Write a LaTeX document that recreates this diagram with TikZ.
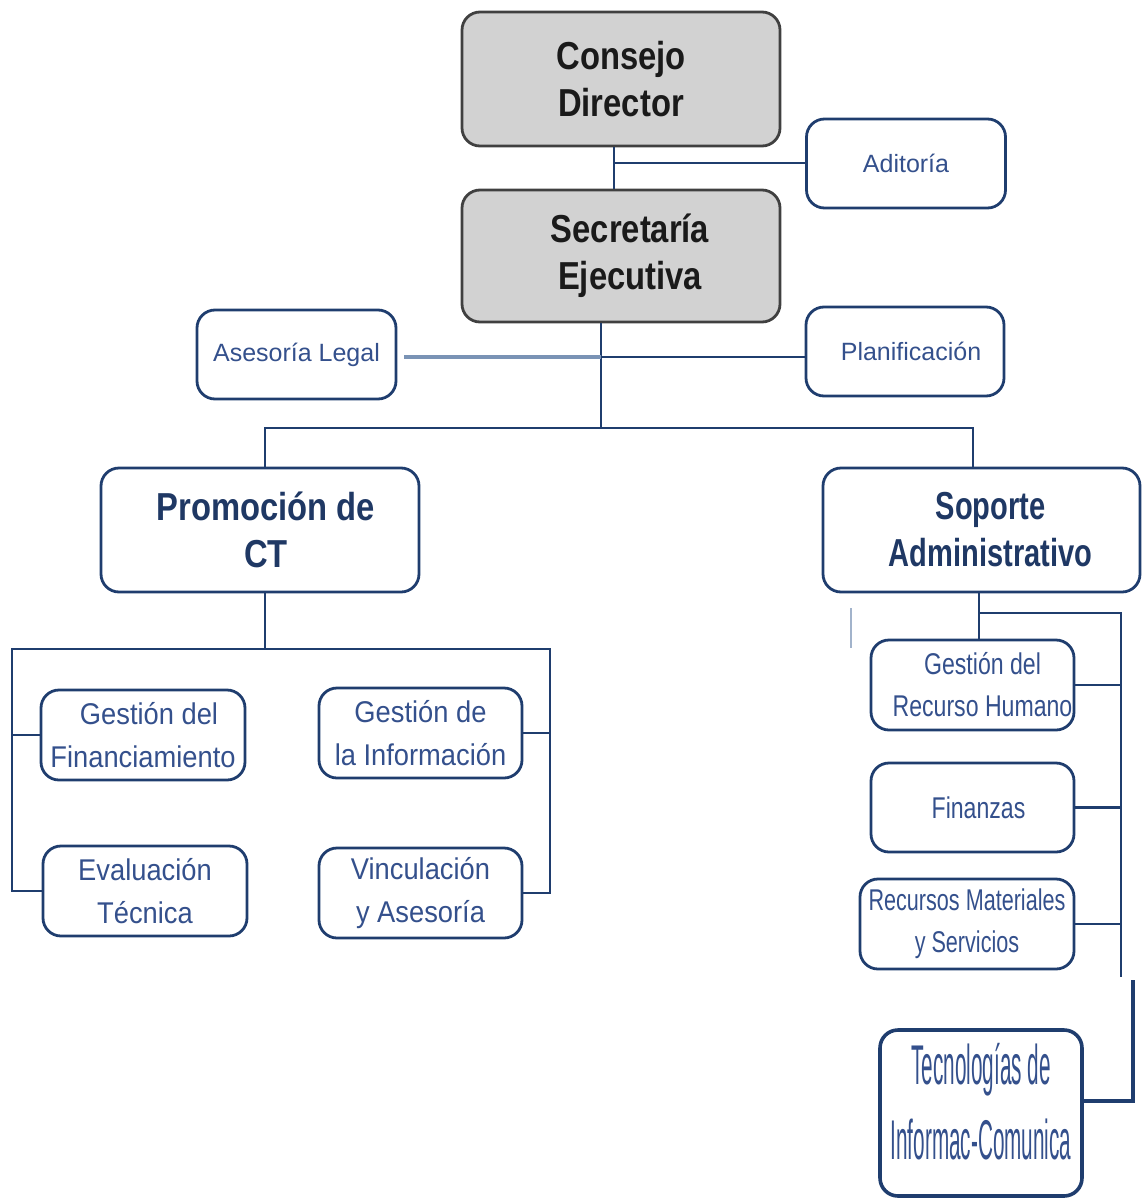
\documentclass[tikz,border=0pt]{standalone}
\usepackage{fontspec}
\setmainfont{Liberation Sans}
\newfontfamily\cabeza[FakeStretch=0.84]{Liberation Sans}
\newfontfamily\cabezaestrecha[FakeStretch=0.745]{Liberation Sans}
\newfontfamily\estrecha[FakeStretch=0.91]{Liberation Sans}
\newfontfamily\angosta[FakeStretch=0.77]{Liberation Sans}
\newfontfamily\muyangosta[FakeStretch=0.72]{Liberation Sans}
\newfontfamily\comprimida[FakeStretch=0.37]{Liberation Sans}

\definecolor{azul}{HTML}{1F3D6E}
\definecolor{textoazul}{HTML}{34508C}
\definecolor{titulo}{HTML}{1F3864}
\definecolor{grisborde}{HTML}{404040}
\definecolor{grisfondo}{HTML}{D2D2D2}
\definecolor{casinegro}{HTML}{1A1A1A}
\definecolor{azulclaro}{HTML}{7A93B5}

\begin{document}
\begin{tikzpicture}[
    x=0.5pt, y=-0.5pt,
    caja/.style={draw=azul, line width=1.4pt, rounded corners=9pt, align=center,
      inner sep=0pt, text=textoazul},
    direccion/.style={caja, draw=grisborde, fill=grisfondo, text=casinegro,
      minimum width=159pt, font=\cabeza\bfseries\fontsize{19.5}{23.5}\selectfont},
    area/.style={caja, text=titulo, minimum width=159pt, minimum height=62pt,
      font=\cabeza\bfseries\fontsize{19.5}{23.5}\selectfont},
    staff/.style={caja, minimum width=99.5pt, minimum height=44.5pt,
      font=\fontsize{12.5}{15}\selectfont},
    unidad/.style={caja, minimum width=102pt, minimum height=45pt,
      font=\estrecha\fontsize{15}{21.5}\selectfont},
    soporte/.style={caja, minimum width=101.5pt, minimum height=45pt,
      font=\angosta\fontsize{15}{21}\selectfont},
    linea/.style={draw=azul, line width=1.3pt},
    legal/.style={draw=azulclaro, line width=2pt},
    grueso/.style={draw=azul, line width=2.2pt},
    tenue/.style={draw=azulclaro!70, line width=0.6pt}
  ]
  \useasboundingbox (0,0) rectangle (1141,1199);

  % Dirección
  \node[direccion, minimum height=67pt] (consejo) at (621,79) {Consejo\\Director};
  \node[direccion, minimum height=66pt] (secretaria) at (621,256)
    {\hspace*{9pt}Secretaría\\\hspace*{9pt}Ejecutiva};
  \node[staff] (aditoria) at (906,163.5) {Aditoría};
  \node[staff] (asesoria) at (296.5,354.5) {Asesoría Legal};
  \node[staff, minimum width=99pt] (planif) at (905,351.5) {\hspace*{6pt}Planificación};

  % Áreas
  \node[area] (promocion) at (260,530) {\hspace*{6pt}Promoción de\\\hspace*{6pt}CT};
  \node[area, minimum width=158.5pt, font=\cabezaestrecha\bfseries\fontsize{19.5}{23.5}\selectfont]
    (soporte) at (981.5,530) {\hspace*{9pt}Soporte\\\hspace*{9pt}Administrativo};

  % Promoción de CT
  \node[unidad] (gfin) at (143,735) {\hspace*{6pt}Gestión del\\Financiamiento};
  \node[unidad, minimum width=101.5pt] (ginfo) at (420.5,733) {Gestión de\\la Información};
  \node[unidad] (evalua) at (145,891) {Evaluación\\Técnica};
  \node[unidad, minimum width=101.5pt] (vincul) at (420.5,893) {Vinculación\\y Asesoría};

  % Soporte Administrativo
  \node[soporte] (grh) at (972.5,685) {\hspace*{10pt}Gestión del\\\hspace*{10pt}Recurso Humano};
  \node[soporte, minimum height=44.5pt] (finanzas) at (972.5,807.5) {\hspace*{6pt}Finanzas};
  \node[soporte, minimum width=107pt, font=\muyangosta\fontsize{15}{21}\selectfont]
    (recmat) at (967,924) {Recursos Materiales\\y Servicios};
  \node[caja, line width=1.8pt, minimum width=101pt, minimum height=83pt, text depth=12pt,
    font=\comprimida\fontsize{28}{37.5}\selectfont]
    (tecno) at (981,1113) {Tecnologías de\\Informac-Comunica};

  % Conectores
  \coordinate (eje1) at (614,163);
  \coordinate (eje2) at (601,357);
  \coordinate (bus1) at (601,428);
  \coordinate (bus2) at (265,649);
  \coordinate (izq) at (12,649);
  \coordinate (der) at (550,649);
  \coordinate (sop) at (979,613);
  \coordinate (riel) at (1121,613);
  \coordinate (finriel) at (1121,977);
  \coordinate (tic) at (1133,980);

  \draw[linea] ([xshift=-3.5pt]consejo.south) -- ([xshift=-3.5pt]secretaria.north);
  \draw[linea] (eje1) -- (eje1 -| aditoria.west);
  \draw[linea] ([xshift=-10pt]secretaria.south) -- (bus1);
  \draw[linea] (eje2) -- (eje2 -| planif.west);
  \draw[legal] ([xshift=3.5pt]eje2 -| asesoria.east) -- (eje2);
  \draw[linea] ([xshift=2.5pt]promocion.north) |- (bus1) -| ([xshift=-4.25pt]soporte.north);

  \draw[linea] ([xshift=2.5pt]promocion.south) -- (bus2);
  \draw[linea] (evalua.west) -| (izq) -- (der) |- (vincul.east);
  \draw[linea] (gfin.west) -- (gfin.west -| izq);
  \draw[linea] (ginfo.east) -- (ginfo.east -| der);

  \draw[linea] ([xshift=-1.25pt]soporte.south) -- ([xshift=-1.25pt]soporte.south |- grh.north);
  \draw[linea] (sop) -- (riel) -- (finriel);
  \draw[linea] (grh.east) -- (grh.east -| riel);
  \draw[linea] (finanzas.east) -- (finanzas.east -| riel);
  \draw[linea] (recmat.east) -- (recmat.east -| riel);
  \draw[grueso] ([yshift=6pt]tecno.east) -| (tic);
  \draw[tenue] (851,608) -- (851,648);
\end{tikzpicture}
\end{document}
